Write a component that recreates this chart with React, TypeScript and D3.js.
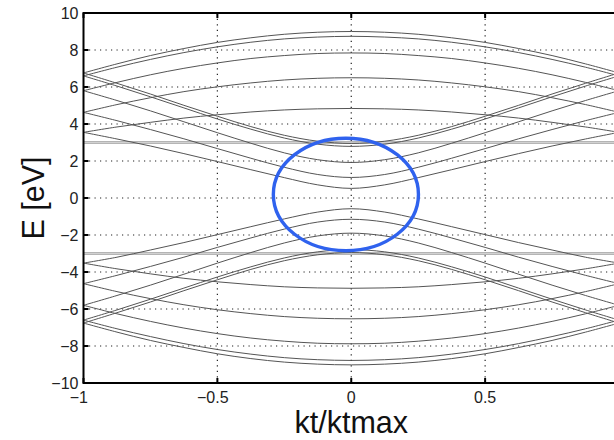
import * as d3 from "d3";

const W = 614;
const H = 440;

// wave vector samples (kt/ktmax)
const K = [-1, -0.875, -0.75, -0.625, -0.5, -0.375, -0.25, -0.125, 0, 0.125, 0.25, 0.375, 0.5, 0.625, 0.75, 0.875, 1];

// conduction bands, E in eV at each K
const bandA = [6.76, 7.25, 7.7, 8.08, 8.41, 8.66, 8.85, 8.96, 9.0, 8.96, 8.85, 8.66, 8.41, 8.08, 7.7, 7.25, 6.76];
const bandB = [6.6, 7.07, 7.49, 7.86, 8.17, 8.42, 8.6, 8.7, 8.74, 8.7, 8.6, 8.42, 8.17, 7.86, 7.49, 7.07, 6.6];
const bandC = [5.8, 6.25, 6.66, 7.01, 7.3, 7.54, 7.7, 7.81, 7.84, 7.81, 7.7, 7.54, 7.3, 7.01, 6.66, 6.25, 5.8];
const bandD = [4.63, 5.05, 5.42, 5.75, 6.01, 6.22, 6.38, 6.47, 6.5, 6.47, 6.38, 6.22, 6.01, 5.75, 5.42, 5.05, 4.63];
const bandE = [3.55, 3.84, 4.09, 4.32, 4.5, 4.65, 4.76, 4.82, 4.84, 4.82, 4.76, 4.65, 4.5, 4.32, 4.09, 3.84, 3.55];
const bandF1 = [6.76, 6.2, 5.62, 5.01, 4.42, 3.86, 3.39, 3.07, 2.95, 3.07, 3.39, 3.86, 4.42, 5.01, 5.62, 6.2, 6.76];
const bandF2 = [6.6, 6.05, 5.47, 4.87, 4.27, 3.72, 3.24, 2.91, 2.79, 2.91, 3.24, 3.72, 4.27, 4.87, 5.47, 6.05, 6.6];
const bandG = [5.8, 5.27, 4.71, 4.12, 3.53, 2.96, 2.44, 2.07, 1.92, 2.07, 2.44, 2.96, 3.53, 4.12, 4.71, 5.27, 5.8];
const bandH = [4.63, 4.18, 3.7, 3.2, 2.67, 2.15, 1.66, 1.27, 1.11, 1.27, 1.66, 2.15, 2.67, 3.2, 3.7, 4.18, 4.63];
const bandI = [3.55, 3.19, 2.81, 2.4, 1.97, 1.53, 1.1, 0.71, 0.52, 0.71, 1.1, 1.53, 1.97, 2.4, 2.81, 3.19, 3.55];

// valence bands
const vbandA = [-6.76, -7.25, -7.7, -8.08, -8.42, -8.68, -8.87, -8.98, -9.02, -8.98, -8.87, -8.68, -8.42, -8.08, -7.7, -7.25, -6.76];
const vbandB = [-6.6, -7.07, -7.49, -7.87, -8.19, -8.44, -8.63, -8.74, -8.78, -8.74, -8.63, -8.44, -8.19, -7.87, -7.49, -7.07, -6.6];
const vbandC = [-5.8, -6.26, -6.67, -7.03, -7.33, -7.57, -7.74, -7.85, -7.88, -7.85, -7.74, -7.57, -7.33, -7.03, -6.67, -6.26, -5.8];
const vbandD = [-4.63, -5.06, -5.44, -5.77, -6.04, -6.25, -6.41, -6.5, -6.53, -6.5, -6.41, -6.25, -6.04, -5.77, -5.44, -5.06, -4.63];
const vbandE = [-3.52, -3.83, -4.1, -4.34, -4.53, -4.68, -4.8, -4.86, -4.88, -4.86, -4.8, -4.68, -4.53, -4.34, -4.1, -3.83, -3.52];
const vbandF1 = [-6.76, -6.2, -5.62, -5.01, -4.42, -3.86, -3.39, -3.07, -2.95, -3.07, -3.39, -3.86, -4.42, -5.01, -5.62, -6.2, -6.76];
const vbandF2 = [-6.6, -6.05, -5.47, -4.87, -4.27, -3.72, -3.24, -2.91, -2.79, -2.91, -3.24, -3.72, -4.27, -4.87, -5.47, -6.05, -6.6];
const vbandG = [-5.8, -5.27, -4.71, -4.12, -3.52, -2.95, -2.43, -2.05, -1.9, -2.05, -2.43, -2.95, -3.52, -4.12, -4.71, -5.27, -5.8];
const vbandH = [-4.63, -4.18, -3.7, -3.2, -2.67, -2.16, -1.68, -1.3, -1.15, -1.3, -1.68, -2.16, -2.67, -3.2, -3.7, -4.18, -4.63];
const vbandI = [-3.52, -3.2, -2.81, -2.41, -1.98, -1.55, -1.13, -0.76, -0.58, -0.76, -1.13, -1.55, -1.98, -2.41, -2.81, -3.2, -3.52];

const bands = [
  bandA, bandB, bandC, bandD, bandE, bandF1, bandF2, bandG, bandH, bandI,
  vbandA, vbandB, vbandC, vbandD, vbandE, vbandF1, vbandF2, vbandG, vbandH, vbandI,
];

// dispersionless levels
const flatLevels = [3.04, 2.96, -2.96, -3.04];

const xTicks = [-1, -0.5, 0, 0.5, 1];
const yTicks = [-10, -8, -6, -4, -2, 0, 2, 4, 6, 8, 10];

// highlighted gap region (data units)
const ring = { k: -0.02, e: 0.19, rk: 0.271, re: 3.04 };

const FONT = "'Liberation Sans', Arial, Helvetica, sans-serif";

const x = d3.scaleLinear().domain([-1, 1]).range([83.5, 619]);
const y = d3.scaleLinear().domain([-10, 10]).range([383, 13]);

const fmt = (v: number) => (v < 0 ? "\u2212" + Math.abs(v) : String(v));

export default function App() {
  const line = d3
    .line<number>()
    .x((_, i) => x(K[i]))
    .y((d) => y(d))
    .curve(d3.curveCatmullRom);

  const [x0, x1] = x.range();
  const [y0, y1] = y.range();

  return (
    <svg
      width={W}
      height={H}
      style={{ position: "absolute", left: 0, top: 0, background: "#fff" }}
    >
      {/* dotted grid */}
      <g stroke="#222" strokeWidth={1.2} strokeDasharray="1.2,4.3">
        {xTicks
          .filter((t) => t > -1 && t < 1)
          .map((t) => (
            <line key={"gx" + t} x1={x(t)} x2={x(t)} y1={y0} y2={y1} />
          ))}
        {yTicks
          .filter((t) => t > -10 && t < 10)
          .map((t) => (
            <line key={"gy" + t} x1={x0} x2={x1} y1={y(t)} y2={y(t)} />
          ))}
      </g>

      {/* flat bands */}
      <g stroke="#909090" strokeWidth={0.9}>
        {flatLevels.map((v, i) => (
          <line key={"f" + i} x1={x0} x2={x1} y1={y(v)} y2={y(v)} />
        ))}
      </g>

      {/* dispersive bands */}
      <g fill="none" stroke="#555" strokeWidth={1}>
        {bands.map((b, i) => (
          <path key={"b" + i} d={line(b) ?? ""} />
        ))}
      </g>

      {/* axes box */}
      <g stroke="#000" strokeWidth={2} fill="none">
        <rect x={x0} y={y1} width={x1 - x0} height={y0 - y1} />
      </g>
      <g stroke="#000" strokeWidth={2}>
        {xTicks.map((t) => (
          <g key={"tx" + t}>
            <line x1={x(t)} x2={x(t)} y1={y0} y2={y0 - 5} />
            <line x1={x(t)} x2={x(t)} y1={y1} y2={y1 + 5} />
          </g>
        ))}
        {yTicks.map((t) => (
          <g key={"ty" + t}>
            <line x1={x0} x2={x0 + 5} y1={y(t)} y2={y(t)} />
            <line x1={x1} x2={x1 - 5} y1={y(t)} y2={y(t)} />
          </g>
        ))}
      </g>

      {/* tick labels */}
      <g fontFamily={FONT} fontSize={16} fill="#222">
        {yTicks.map((t) => (
          <text key={"ly" + t} x={x0 - 5} y={y(t)} dy="0.36em" textAnchor="end">
            {fmt(t)}
          </text>
        ))}
        {xTicks
          .filter((t) => x(t) < W)
          .map((t) => (
            <text
              key={"lx" + t}
              x={x(t)}
              y={403}
              dx={t < 0 ? "-0.29em" : 0}
              textAnchor="middle"
            >
              {fmt(t)}
            </text>
          ))}
      </g>

      {/* axis titles */}
      <g fontFamily={FONT} fontSize={30.5} fill="#111">
        <text x={x(0)} y={433} textAnchor="middle">
          kt/ktmax
        </text>
        <text transform={`translate(44,${y(0)}) rotate(-90)`} textAnchor="middle">
          E [eV]
        </text>
      </g>

      {/* highlight ring */}
      <ellipse
        cx={x(ring.k)}
        cy={y(ring.e)}
        rx={x(ring.rk) - x(0)}
        ry={y(0) - y(ring.re)}
        fill="none"
        stroke="#2f62ee"
        strokeWidth={3.4}
      />
    </svg>
  );
}
